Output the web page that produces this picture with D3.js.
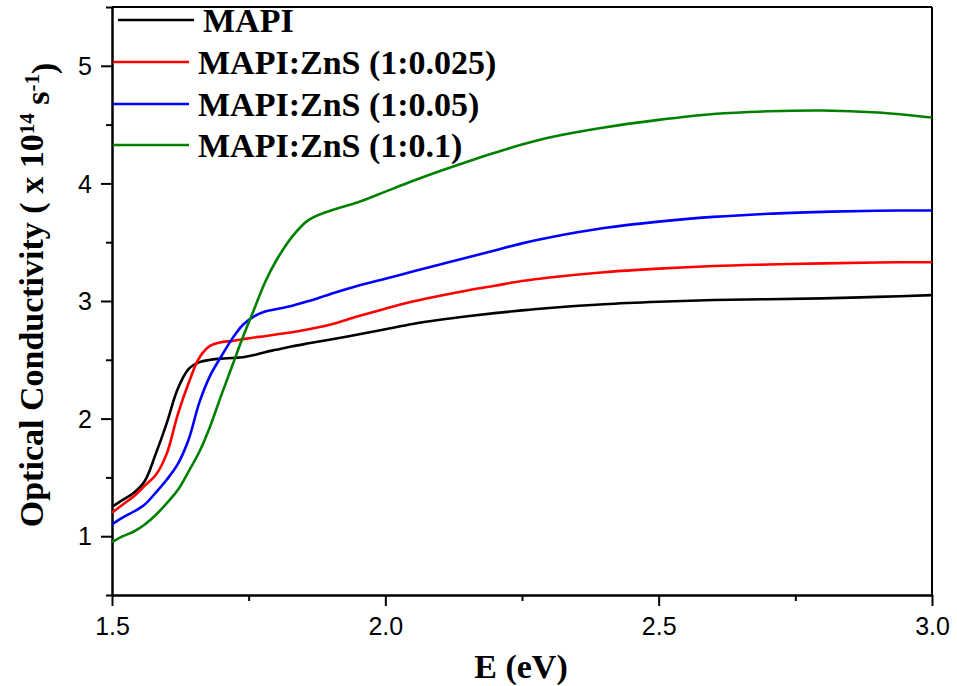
<!DOCTYPE html>
<html>
<head>
<meta charset="utf-8">
<script src="https://cdn.jsdelivr.net/npm/d3@7"></script>
<style>
  html, body { margin: 0; padding: 0; background: #fff; }
  svg { display: block; }
</style>
</head>
<body>
<svg id="chart" width="957" height="686"></svg>
<script>
// ---- Data ----
const energy = [1.50, 1.52, 1.54, 1.56, 1.58, 1.60, 1.62, 1.64, 1.66, 1.68, 1.70, 1.72, 1.74, 1.76, 1.78, 1.80, 1.83, 1.86, 1.90, 1.95, 2.00, 2.05, 2.10, 2.15, 2.20, 2.25, 2.30, 2.40, 2.50, 2.60, 2.70, 2.80, 2.90, 3.00];

const mapi     = [1.25, 1.31, 1.37, 1.47, 1.70, 1.96, 2.25, 2.42, 2.48, 2.50, 2.51, 2.515, 2.522, 2.54, 2.565, 2.585, 2.615, 2.64, 2.672, 2.715, 2.76, 2.805, 2.84, 2.87, 2.897, 2.92, 2.94, 2.972, 2.993, 3.008, 3.015, 3.022, 3.035, 3.05];
const zns025   = [1.20, 1.27, 1.34, 1.43, 1.52, 1.70, 2.03, 2.30, 2.52, 2.62, 2.65, 2.66, 2.675, 2.69, 2.70, 2.715, 2.735, 2.76, 2.80, 2.87, 2.935, 2.995, 3.045, 3.09, 3.13, 3.17, 3.20, 3.245, 3.275, 3.297, 3.31, 3.32, 3.328, 3.33];
const zns05    = [1.10, 1.16, 1.21, 1.27, 1.37, 1.48, 1.61, 1.82, 2.14, 2.37, 2.53, 2.68, 2.80, 2.87, 2.91, 2.93, 2.96, 3.00, 3.06, 3.13, 3.19, 3.25, 3.31, 3.37, 3.43, 3.49, 3.54, 3.62, 3.675, 3.715, 3.742, 3.758, 3.768, 3.77];
const zns1     = [0.95, 1.00, 1.04, 1.10, 1.18, 1.28, 1.39, 1.55, 1.72, 1.94, 2.20, 2.45, 2.70, 2.93, 3.16, 3.34, 3.55, 3.69, 3.77, 3.84, 3.93, 4.02, 4.105, 4.185, 4.26, 4.33, 4.39, 4.475, 4.54, 4.59, 4.613, 4.62, 4.603, 4.56];

const seriesNames  = ["MAPI", "MAPI:ZnS (1:0.025)", "MAPI:ZnS (1:0.05)", "MAPI:ZnS (1:0.1)"];
const seriesValues = [mapi, zns025, zns05, zns1];
const seriesColors = ["#000000", "#ff0000", "#0000ff", "#008000"];

const xMajorTicks = [1.5, 2.0, 2.5, 3.0];
const xMinorTicks = [1.75, 2.25, 2.75];
const yMajorTicks = [1, 2, 3, 4, 5];
const yMinorTicks = [0.5, 1.5, 2.5, 3.5, 4.5, 5.5];

// ---- Layout ----
const svg = d3.select("#chart");
const L = 112, R = 932, T = 7, B = 595;

const x = d3.scaleLinear().domain([1.5, 3.0]).range([L, R]);
const y = d3.scaleLinear().domain([0.5, 5.5]).range([B, T]);

const sansFont = "'Liberation Sans', Arial, sans-serif";
const serifFont = "'Liberation Serif', 'Times New Roman', serif";

// frame (top & right)
svg.append("line").attr("x1", L).attr("x2", R).attr("y1", T).attr("y2", T)
  .attr("stroke", "#000").attr("stroke-width", 2);
svg.append("line").attr("x1", R).attr("x2", R).attr("y1", T).attr("y2", B)
  .attr("stroke", "#000").attr("stroke-width", 2);

// bottom axis
const xAxis = svg.append("g").attr("transform", `translate(0,${B})`)
  .call(d3.axisBottom(x).tickValues(xMajorTicks).tickFormat(d3.format(".1f")).tickSize(11).tickSizeOuter(0).tickPadding(8));
svg.append("g").attr("transform", `translate(0,${B})`)
  .call(d3.axisBottom(x).tickValues(xMinorTicks).tickFormat("").tickSize(6).tickSizeOuter(0));

// left axis
const yAxis = svg.append("g").attr("transform", `translate(${L},0)`)
  .call(d3.axisLeft(y).tickValues(yMajorTicks).tickFormat(d3.format("d")).tickSize(11).tickSizeOuter(0).tickPadding(9));
svg.append("g").attr("transform", `translate(${L},0)`)
  .call(d3.axisLeft(y).tickValues(yMinorTicks).tickFormat("").tickSize(6).tickSizeOuter(0));

svg.selectAll(".domain").attr("stroke", "#000").attr("stroke-width", 2);
svg.selectAll(".tick line").attr("stroke", "#000").attr("stroke-width", 2);
svg.selectAll(".tick text").attr("fill", "#000").style("font-family", sansFont).style("font-size", "25px");
xAxis.selectAll(".tick text").attr("dy", "0.85em");
yAxis.selectAll(".tick text").attr("dy", "0.35em");

// lines
const line = d3.line()
  .x((d, i) => x(energy[i]))
  .y(d => y(d))
  .curve(d3.curveCatmullRom.alpha(0.5));

seriesValues.forEach((vals, k) => {
  svg.append("path")
    .datum(vals)
    .attr("d", line)
    .attr("fill", "none")
    .attr("stroke", seriesColors[k])
    .attr("stroke-width", 2.6)
    .attr("stroke-linejoin", "round");
});

// legend
const legendRowsY = [20, 62, 104, 145];
seriesNames.forEach((name, k) => {
  const off = k === 0 ? 5 : 0;
  svg.append("line")
    .attr("x1", 113 + off).attr("x2", 189 + off)
    .attr("y1", legendRowsY[k]).attr("y2", legendRowsY[k])
    .attr("stroke", seriesColors[k]).attr("stroke-width", 2.6);
  svg.append("text")
    .attr("x", 198 + off).attr("y", legendRowsY[k] + 12)
    .style("font-family", serifFont).style("font-weight", "bold").style("font-size", "34px")
    .attr("fill", "#000")
    .text(name);
});

// axis titles
svg.append("text")
  .attr("x", 521).attr("y", 678)
  .attr("text-anchor", "middle")
  .style("font-family", serifFont).style("font-weight", "bold").style("font-size", "34px")
  .text("E (eV)");

const yt = svg.append("text")
  .attr("transform", "translate(43,295) rotate(-90)")
  .attr("text-anchor", "middle")
  .style("font-family", serifFont).style("font-weight", "bold").style("font-size", "34px");
yt.append("tspan").text("Optical Conductivity ( x 10");
yt.append("tspan").attr("dy", "-0.45em").style("font-size", "21px").text("14");
yt.append("tspan").attr("dy", "0.45em").text(" s");
yt.append("tspan").attr("dy", "-0.45em").style("font-size", "21px").text("-1");
yt.append("tspan").attr("dy", "0.45em").text(")");
</script>
</body>
</html>
